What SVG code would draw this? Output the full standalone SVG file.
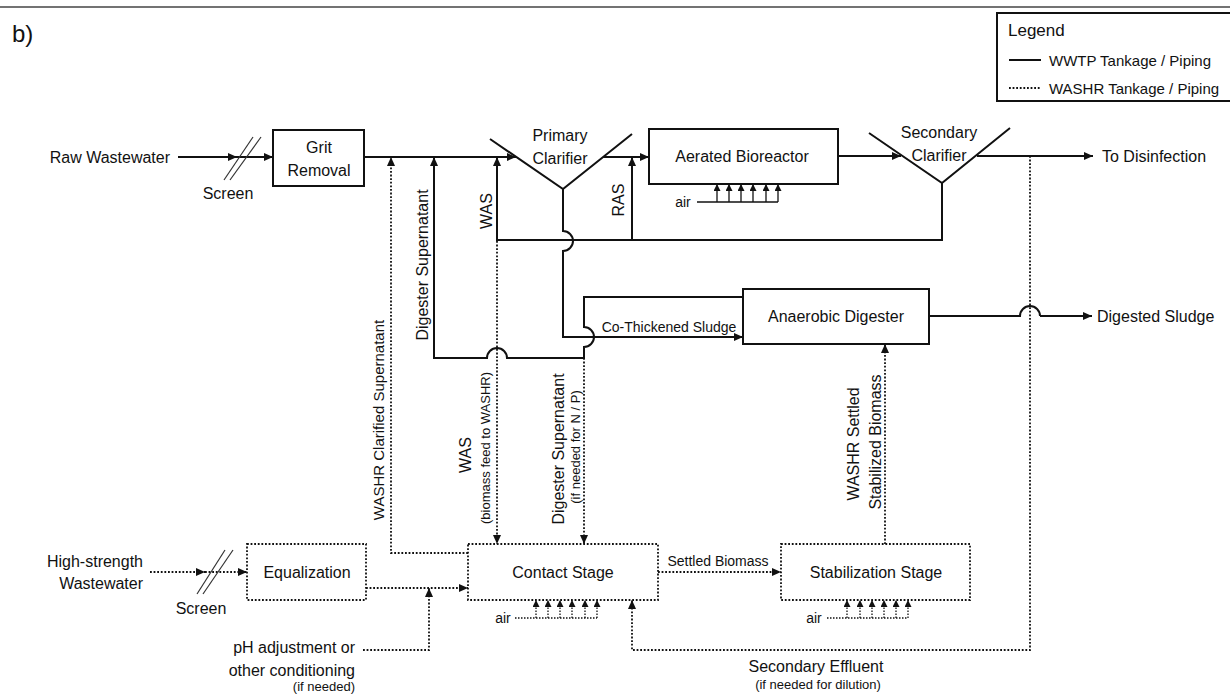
<svg xmlns="http://www.w3.org/2000/svg" width="1230" height="695" viewBox="0 0 1230 695">
<defs>
<style>
text{font-family:"Liberation Sans",Arial,sans-serif;fill:#111;dominant-baseline:central}
.t16{font-size:16px}
.t15{font-size:15px}
.t14{font-size:14px}
.t13{font-size:13px}
.mid{text-anchor:middle}
.end{text-anchor:end}
.box{fill:#fff;stroke:#111;stroke-width:2}
.dbox{fill:#fff;stroke:#111;stroke-width:1.8;stroke-dasharray:1.8 1.8}
.s{fill:none;stroke:#111;stroke-width:2}
.d{fill:none;stroke:#111;stroke-width:1.8;stroke-dasharray:1.8 1.8}
.a{fill:none;stroke:#111;stroke-width:1.3}
.ad{fill:none;stroke:#111;stroke-width:1.3;stroke-dasharray:1.5 1.5}
.scr{fill:none;stroke:#333;stroke-width:1.2}
</style>
<marker id="ah" viewBox="0 0 9 8" refX="9" refY="4" markerWidth="9" markerHeight="8" markerUnits="userSpaceOnUse" orient="auto">
<path d="M0,0 L9,4 L0,8 z" fill="#111"/>
</marker>
<marker id="as" viewBox="0 0 8 8" refX="8" refY="4" markerWidth="8" markerHeight="7" markerUnits="userSpaceOnUse" orient="auto">
<path d="M0,0 L8,4 L0,8 z" fill="#111"/>
</marker>
</defs>
<rect width="1230" height="695" fill="#fff"/>
<line x1="0" y1="7" x2="1230" y2="7" stroke="#444" stroke-width="1.5"/>
<text x="12" y="33" style="font-size:24px">b)</text>

<g id="legend">
<rect x="997" y="13" width="250" height="88" fill="#fff" stroke="#111" stroke-width="2"/>
<text x="1008" y="30" style="font-size:17px">Legend</text>
<line x1="1009" y1="60" x2="1041" y2="60" class="s" stroke-width="1.5"/>
<text x="1049" y="60" class="t15">WWTP Tankage / Piping</text>
<line x1="1009" y1="88" x2="1041" y2="88" class="d" stroke-width="1.3" stroke-dasharray="1.3 1.3"/>
<text x="1049" y="88" class="t15">WASHR Tankage / Piping</text>
</g>

<g id="connectors">
<path class="s" d="M178,157 H237" marker-end="url(#ah)"/>
<path class="s" d="M237,157 H273" marker-end="url(#ah)"/>
<line class="scr" x1="224" y1="180" x2="253" y2="137"/>
<line class="scr" x1="230" y1="180" x2="261" y2="137"/>
<path class="s" d="M364,157 H516" marker-end="url(#ah)"/>
<path class="s" d="M603,157 H649" marker-end="url(#ah)"/>
<path class="s" d="M838,156 H901" marker-end="url(#ah)"/>
<path class="s" d="M977,156 H1093" marker-end="url(#ah)"/>
<path class="s" d="M942,183 V240 H497 V157" marker-end="url(#ah)"/>
<path class="s" d="M632,240 V157" marker-end="url(#ah)"/>
<path class="s" d="M563,189 V231 A10,10 0 0 1 563,251 V337 H743" marker-end="url(#ah)"/>
<path class="s" d="M743,297 H584 V327 A10,10 0 0 1 584,347 V358 H507 A10,10 0 0 0 487,358 H434 V157" marker-end="url(#ah)"/>
<path class="s" d="M929,316 H1020 A10,10 0 0 1 1040,316" />
<path class="s" d="M1040,316 H1092" stroke="#333" stroke-width="1.4" marker-end="url(#ah)"/>
<path class="d" d="M497,241 V544" marker-end="url(#ah)"/>
<path class="d" d="M584,358 V544" marker-end="url(#ah)"/>
<path class="d" d="M468,553 H391 V157" marker-end="url(#ah)"/>
<path class="d" d="M1030,156 V650 H632 V600" marker-end="url(#ah)"/>
<path class="d" d="M658,572 H781" marker-end="url(#ah)"/>
<path class="d" d="M885,544 V344" marker-end="url(#ah)"/>
<path class="d" d="M150,572 H205" marker-end="url(#ah)"/>
<path class="d" d="M205,572 H247" marker-end="url(#ah)"/>
<line class="scr" x1="197" y1="594" x2="225" y2="550"/>
<line class="scr" x1="203" y1="594" x2="233" y2="550"/>
<path class="d" d="M366,588 H468" marker-end="url(#ah)"/>
<path class="d" d="M363,650 H429 V588" marker-end="url(#ah)"/>
<path class="a" d="M697,202 H778"/>
<path class="a" d="M717,202 V184" marker-end="url(#as)"/>
<path class="a" d="M729,202 V184" marker-end="url(#as)"/>
<path class="a" d="M741,202 V184" marker-end="url(#as)"/>
<path class="a" d="M753,202 V184" marker-end="url(#as)"/>
<path class="a" d="M766,202 V184" marker-end="url(#as)"/>
<path class="a" d="M778,202 V184" marker-end="url(#as)"/>
<path class="ad" d="M515,618 H597"/>
<path class="ad" d="M536,618 V600" marker-end="url(#as)"/>
<path class="ad" d="M548,618 V600" marker-end="url(#as)"/>
<path class="ad" d="M560,618 V600" marker-end="url(#as)"/>
<path class="ad" d="M572,618 V600" marker-end="url(#as)"/>
<path class="ad" d="M585,618 V600" marker-end="url(#as)"/>
<path class="ad" d="M597,618 V600" marker-end="url(#as)"/>
<path class="ad" d="M827,618 H908"/>
<path class="ad" d="M847,618 V600" marker-end="url(#as)"/>
<path class="ad" d="M860,618 V600" marker-end="url(#as)"/>
<path class="ad" d="M872,618 V600" marker-end="url(#as)"/>
<path class="ad" d="M884,618 V600" marker-end="url(#as)"/>
<path class="ad" d="M896,618 V600" marker-end="url(#as)"/>
<path class="ad" d="M908,618 V600" marker-end="url(#as)"/>
</g>

<g id="grit-removal">
<rect class="box" x="273" y="130" width="91" height="56"/>
<text class="t16 mid" x="319" y="147">Grit</text>
<text class="t16 mid" x="319" y="170">Removal</text>
</g>

<g id="primary-clarifier">
<path class="s" d="M490,139 L563,189 L632,134"/>
<text class="t16 mid" x="560" y="135">Primary</text>
<text class="t16 mid" x="560" y="158">Clarifier</text>
</g>

<g id="aerated-bioreactor">
<rect class="box" x="649" y="129" width="189" height="55"/>
<text class="t16 mid" x="742" y="156">Aerated Bioreactor</text>
</g>

<g id="secondary-clarifier">
<path class="s" d="M869,133 L942,183 L1010,128"/>
<text class="t16 mid" x="939" y="132">Secondary</text>
<text class="t16 mid" x="939" y="155">Clarifier</text>
</g>

<g id="anaerobic-digester">
<rect class="box" x="743" y="289" width="186" height="55"/>
<text class="t16 mid" x="836" y="316">Anaerobic Digester</text>
</g>

<g id="equalization">
<rect class="dbox" x="247" y="544" width="119" height="56"/>
<text class="t16 mid" x="307" y="572">Equalization</text>
</g>

<g id="contact-stage">
<rect class="dbox" x="468" y="544" width="190" height="56"/>
<text class="t16 mid" x="563" y="572">Contact Stage</text>
</g>

<g id="stabilization-stage">
<rect class="dbox" x="781" y="544" width="189" height="56"/>
<text class="t16 mid" x="876" y="572">Stabilization Stage</text>
</g>

<g id="labels">
<text class="t16 end" x="170" y="157">Raw Wastewater</text>
<text class="t16 mid" x="228" y="193">Screen</text>
<text class="t16" x="1102" y="156">To Disinfection</text>
<text class="t16" x="1097" y="316">Digested Sludge</text>
<text class="t14 mid" x="669" y="327">Co-Thickened Sludge</text>
<text class="t14 mid" x="683" y="202">air</text>
<text class="t14 mid" x="503" y="618">air</text>
<text class="t14 mid" x="814" y="618">air</text>
<text class="t14 mid" x="718" y="561">Settled Biomass</text>
<text class="t16 end" x="143" y="561">High-strength</text>
<text class="t16 end" x="143" y="583">Wastewater</text>
<text class="t16 mid" x="201" y="608">Screen</text>
<text class="t16 end" x="355" y="647">pH adjustment or</text>
<text class="t16 end" x="355" y="670">other conditioning</text>
<text class="t13 end" x="355" y="686">(if needed)</text>
<text class="t16 mid" x="816" y="666">Secondary Effluent</text>
<text class="t13 mid" x="818" y="684">(if needed for dilution)</text>
<text class="t16 mid" transform="translate(422,265) rotate(-90)">Digester Supernatant</text>
<text class="t16 mid" transform="translate(486,211) rotate(-90)">WAS</text>
<text class="t16 mid" transform="translate(618,200) rotate(-90)">RAS</text>
<text class="t15 mid" transform="translate(378,420) rotate(-90)">WASHR Clarified Supernatant</text>
<text class="t16 mid" transform="translate(465,455) rotate(-90)">WAS</text>
<text class="t13 mid" transform="translate(485,448) rotate(-90)">(biomass feed to WASHR)</text>
<text class="t16 mid" transform="translate(558,449) rotate(-90)">Digester Supernatant</text>
<text class="t13 mid" transform="translate(575,447) rotate(-90)">(if needed for N / P)</text>
<text class="t16 mid" transform="translate(853,444) rotate(-90)">WASHR Settled</text>
<text class="t16 mid" transform="translate(875,442) rotate(-90)">Stabilized Biomass</text>
</g>
</svg>
